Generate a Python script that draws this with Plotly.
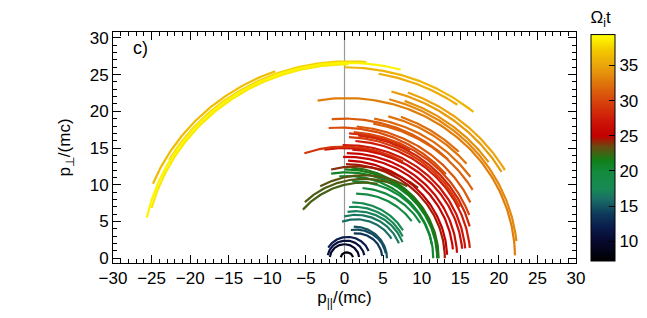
import numpy as np
import plotly.graph_objects as go
from plotly.colors import sample_colorscale

# ---- data: arc segments of particle trajectories in momentum space ----
# time (Omega_i t), radius, start angle (deg), end angle (deg), centre offset along p_par
arc_t  = [8.0, 10.0, 11.0, 12.0,
          13.5, 14.5, 15.0,
          16.0, 16.5, 17.0, 17.5, 18.0,
          19.0, 19.5, 20.0, 20.5, 21.0, 21.5, 22.0,
          22.7, 22.9, 23.1, 24.0,
          24.5, 25.0, 25.5, 26.0, 26.5, 26.8, 27.0, 27.5, 28.0, 28.5,
          29.0, 29.5, 30.0, 30.5,
          31.0, 31.2, 31.5, 32.0, 32.2, 32.5, 33.0, 33.5,
          34.0, 34.5, 35.0, 35.5, 36.0,
          36.5, 37.5, 38.5, 39.0]
arc_r  = [0.8, 1.9, 2.4, 2.9,
          3.4, 3.9, 4.3,
          5.3, 5.9, 6.4, 7.0, 7.6,
          8.8, 9.6, 10.5, 11.2, 11.7, 12.1, 12.4,
          10.3, 10.8, 11.3, 12.5,
          12.8, 13.3, 13.8, 14.3, 14.8, 15.0, 15.4, 16.0, 16.8, 17.0,
          15.2, 16.5, 17.2, 17.8,
          18.0, 19.0, 18.6, 19.3, 20.5, 20.0, 21.8, 22.4,
          22.8, 23.5, 24.0, 25.5, 26.0,
          27.1, 26.8, 26.4, 26.6]
arc_a0 = [170, 175, 170, 150,
          95, 100, 90,
          110, 105, 100, 95, 90,
          90, 85, 90, 95, 100, 90, 85,
          140, 135, 120, 105,
          90, 88, 92, 90, 88, 100, 92, 86, 84, 88,
          110, 88, 86, 95,
          85, 95, 80, 80, 70, 75, 100, 75,
          70, 75, 70, 80, 90,
          158, 150, 165, 168]
arc_a1 = [10, 5, 10, 20,
          5, 10, 0,
          30, 20, 20, 25, 30,
          35, 30, 10, 0, 0, 0, 0,
          80, 70, 60, 50,
          0, 2, 5, 3, 5, 60, 5, 5, 15, 60,
          60, 25, 20, 40,
          25, 45, 30, 35, 45, 40, 1, 6,
          35, 30, 30, 55, 50,
          110, 85, 90, 75]
arc_cx = [0.3, 0.0, 0.2, 0.4,
          1.5, 1.5, 1.2,
          1.5, 1.5, 1.5, 1.2, 1.0,
          1.5, 1.5, 1.0, 0.3, 0.3, 0.0, -0.2,
          2.5, 2.5, 2.5, 1.5,
          0.2, 0.0, 0.3, 0.3, 0.5, 0.0, 0.3, 0.3, 0.0, 0.0,
          0.0, 0.0, 0.0, -0.5,
          0.0, 0.0, 0.5, 0.5, 0.3, 0.5, 0.3, 0.0,
          0.0, 0.0, 0.0, 0.0, 0.0,
          0.3, 0.5, 0.5, 0.4]

cb_ticks = [10, 15, 20, 25, 30, 35]
t_min, t_max = 7.2, 39.4

# colour table (value, colour)
ct_vals = [7.2, 10.0, 12.0, 14.0, 16.0, 17.5, 20.0, 21.5, 23.5, 25.0, 27.0, 30.0, 33.0, 35.0, 37.0, 39.4]
ct_cols = ["#000000", "#07082e", "#0a1c4c", "#0f3b5c", "#1a6e66", "#178a55", "#138a3c",
           "#108018", "#6a4a10", "#c20000", "#cc1408", "#d8440c", "#e07e0c", "#eba40c",
           "#f2c400", "#ffff00"]
colorscale = [[(v - t_min) / (t_max - t_min), c] for v, c in zip(ct_vals, ct_cols)]

fig = go.Figure()

for t, r, a0, a1, cx in zip(arc_t, arc_r, arc_a0, arc_a1, arc_cx):
    th = np.radians(np.linspace(a0, a1, 80))
    xs = cx + r * np.cos(th)
    ys = r * np.sin(th)
    col = sample_colorscale(colorscale, [(t - t_min) / (t_max - t_min)])[0]
    fig.add_trace(go.Scatter(x=xs, y=ys, mode="lines",
                             line=dict(color=col, width=2.2),
                             hoverinfo="skip", showlegend=False))

# page body has an 8 px default margin, so figure coords are page coords - 8
ML, MR, MT, MB = 105, 79, 24, 63
plot_w = 647 - ML - MR
plot_h = 318 - MT - MB
title_h = 24

# colour bar carrier
fig.add_trace(go.Scatter(
    x=[None], y=[None], mode="markers",
    marker=dict(color=[t_min, t_max], cmin=t_min, cmax=t_max,
                colorscale=colorscale, showscale=True,
                colorbar=dict(
                    x=(583 - ML) / plot_w, xanchor="left", xref="paper", xpad=0,
                    y=1.0 + title_h / plot_h, yanchor="top", ypad=0,
                    lenmode="pixels", len=229 + title_h,
                    thickness=24, thicknessmode="pixels",
                    outlinecolor="black", outlinewidth=1,
                    tickvals=cb_ticks, ticks="inside", ticklen=6,
                    tickcolor="black",
                    tickfont=dict(size=17, color="black"),
                    title=dict(text="Ω<sub>i</sub>t", side="top",
                               font=dict(size=17, color="black")),
                )),
    hoverinfo="skip", showlegend=False))

axis_common = dict(
    showline=True, linecolor="black", linewidth=1, mirror="ticks",
    ticks="inside", ticklen=8, tickcolor="black", tickwidth=1,
    showgrid=False, zeroline=False,
    tickfont=dict(size=17, color="black"),
    minor=dict(ticks="inside", ticklen=4, dtick=1, tickcolor="black", showgrid=False),
)

fig.update_xaxes(range=[-30, 30], dtick=5, tick0=0,
                 title=dict(text="p<sub>||</sub>/(mc)", font=dict(size=17, color="black"), standoff=2),
                 **axis_common)
fig.update_yaxes(range=[-0.65, 30.8], dtick=5, tick0=0,
                 title=dict(text="p<sub>⊥</sub>/(mc)", font=dict(size=17, color="black"), standoff=14),
                 **axis_common)

fig.add_shape(type="line", x0=0, x1=0, y0=0, y1=1, xref="x", yref="paper",
              line=dict(color="#999999", width=1.2), layer="below")

fig.add_annotation(x=-26.5, y=28.6, text="c)", showarrow=False,
                   font=dict(size=18, color="black"))

fig.update_layout(
    width=647, height=318,
    margin=dict(l=ML, r=MR, t=MT, b=MB, autoexpand=False),
    paper_bgcolor="white", plot_bgcolor="white",
    font=dict(family="Liberation Sans, Arial, sans-serif", color="black"),
)

fig.write_html("out.html")
